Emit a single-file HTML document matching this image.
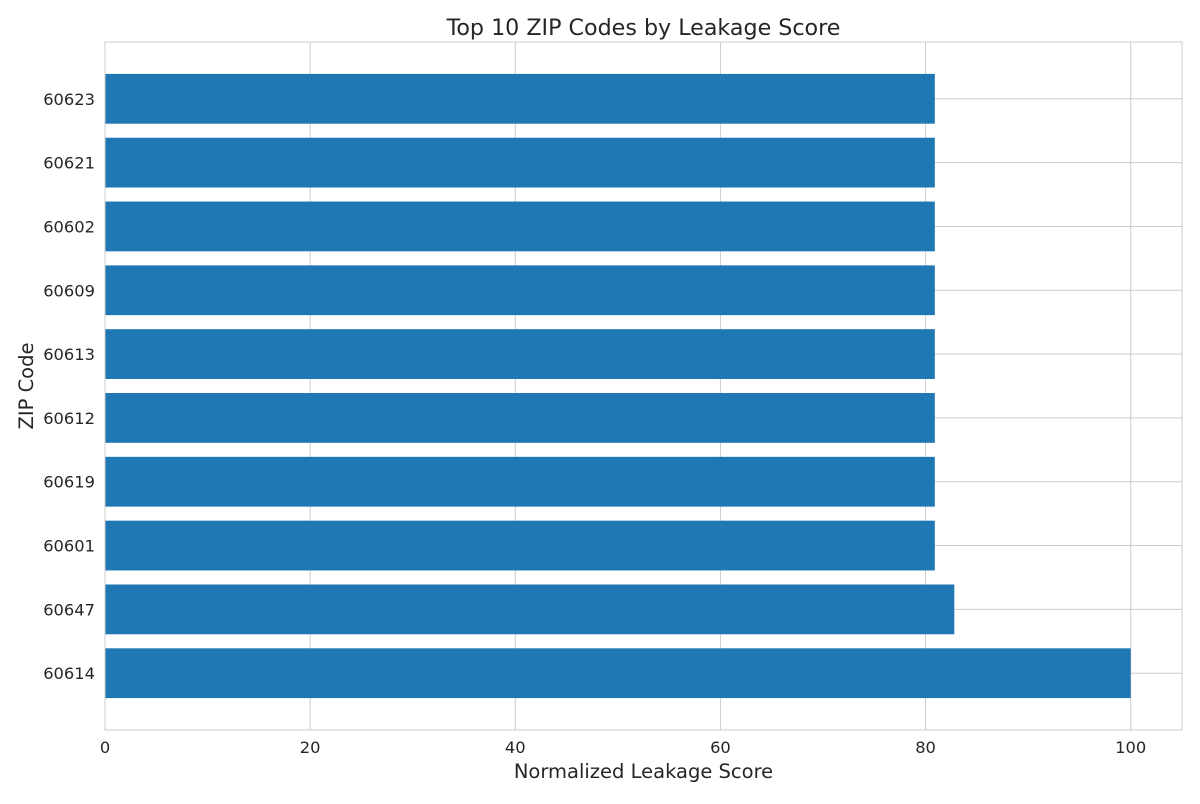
<!DOCTYPE html>
<html><head><meta charset="utf-8"><style>
body{margin:0;background:#fff;font-family:"DejaVu Sans",sans-serif;}
</style></head><body>
<svg id="chart" width="1200" height="800" xmlns="http://www.w3.org/2000/svg" font-family="DejaVu Sans, sans-serif"></svg>
<script>
const categories = ["60614","60647","60601","60619","60612","60613","60609","60602","60621","60623"];
const values = [100, 82.8, 80.9, 80.9, 80.9, 80.9, 80.9, 80.9, 80.9, 80.9];
const xTicks = [0, 20, 40, 60, 80, 100];

const svg = document.getElementById('chart');
const NS = 'http://www.w3.org/2000/svg';
const L = 105, R = 1182, T = 42, B = 730;
const xMin = 0, xMax = 105;
const yMin = -0.89, yMax = categories.length - 1 + 0.89;
const x = v => L + (v - xMin) / (xMax - xMin) * (R - L);
const y = i => B - (i - yMin) / (yMax - yMin) * (B - T);
const bw = 0.78;
function mk(tag, attrs, text){
  const e = document.createElementNS(NS, tag);
  for (const k in attrs) e.setAttribute(k, attrs[k]);
  if (text !== undefined) e.textContent = text;
  svg.appendChild(e);
  return e;
}
xTicks.forEach(t => {
  const g = mk('line', {x1:x(t), x2:x(t), y1:T, y2:B, stroke:'#cccccc', 'stroke-width':1});
  
  
  const lb = mk('text', {x:x(t), y:B+23, 'text-anchor':'middle', 'font-size':16.3, fill:'#262626'}, String(t));
  
  
});
categories.forEach((c, i) => {
  const g = mk('line', {x1:L, x2:R, y1:y(i), y2:y(i), stroke:'#cccccc', 'stroke-width':1});
  
  
});
categories.forEach((c, i) => {
  const top = y(i + bw/2), bot = y(i - bw/2);
  const r = mk('rect', {x:x(0), y:top, width:x(values[i]) - x(0), height:bot - top, fill:'#1f77b4'});
  
  
  const lb = mk('text', {x:L - 10, y:y(i) + 6, 'text-anchor':'end', 'font-size':16.3, fill:'#262626'}, c);
  
  
});
const fr = mk('rect', {x:L, y:T, width:R-L, height:B-T, fill:'none', stroke:'#cccccc', 'stroke-width':1});


const tt = mk('text', {x:(L+R)/2, y:35, 'text-anchor':'middle', 'font-size':22.2, fill:'#262626'}, 'Top 10 ZIP Codes by Leakage Score');


const xt = mk('text', {x:(L+R)/2, y:778, 'text-anchor':'middle', 'font-size':19.5, fill:'#262626'}, 'Normalized Leakage Score');


const yt = mk('text', {x:0, y:0, 'text-anchor':'middle', 'font-size':19.5, fill:'#262626', transform:'translate(33,386) rotate(-90)'}, 'ZIP Code');


</script>
</body></html>
